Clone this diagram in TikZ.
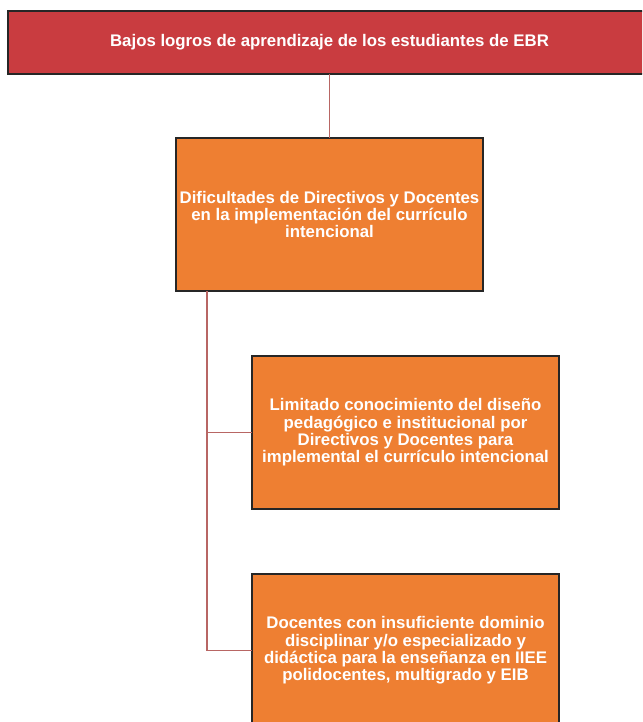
\documentclass[tikz,border=0pt]{standalone}
\usepackage{fontspec}
\setmainfont{Liberation Sans}
\begin{document}
\begin{tikzpicture}[x=1pt,y=-1pt,
  every node/.style={inner sep=0pt,outer sep=0pt},
  boxbase/.style={draw=black!85,line width=1.3pt,text=white,
    font=\bfseries\fontsize{16.8}{17.4}\selectfont,align=center},
  redbox/.style={boxbase,fill=redfill},
  orangebox/.style={boxbase,fill=orangefill},
  link/.style={draw=linkcol,line width=1.2pt}]
\definecolor{redfill}{HTML}{C93C40}
\definecolor{orangefill}{HTML}{EE7F32}
\definecolor{linkcol}{HTML}{B86664}
\useasboundingbox (0,0) rectangle (642,722);
\begin{scope}
\clip (0,0) rectangle (642,722);
\node[redbox,minimum width=643pt,minimum height=63pt] (root) at (329.5,42.5)
  {Bajos logros de aprendizaje de los estudiantes de EBR};
\node[orangebox,minimum width=307pt,minimum height=153pt] (cause) at (329.5,214.5)
  {Dificultades de Directivos y Docentes\\en la implementación del currículo\\intencional};
\node[orangebox,minimum width=307pt,minimum height=153pt] (sub1) at (405.5,432.5)
  {Limitado conocimiento del diseño\\pedagógico e institucional por\\Directivos y Docentes para\\implemental el currículo intencional};
\node[orangebox,minimum width=307pt,minimum height=153pt] (sub2) at (405.5,650.5)
  {Docentes con insuficiente dominio\\disciplinar y/o especializado y\\didáctica para la enseñanza en IIEE\\polidocentes, multigrado y EIB};
\coordinate (trunk) at (207,0);
\draw[link] (root.south) -- (cause.north);
\draw[link] (cause.south -| trunk) |- (sub1.west);
\draw[link] (cause.south -| trunk) |- (sub2.west);
\end{scope}
\end{tikzpicture}
\end{document}
